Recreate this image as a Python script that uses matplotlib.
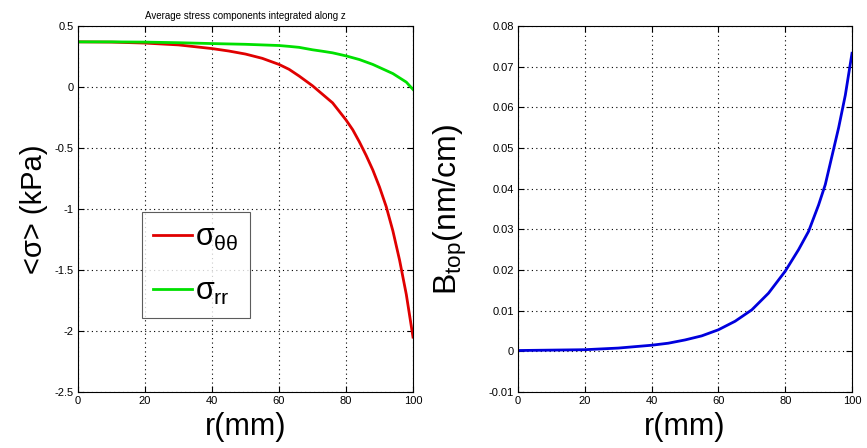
import matplotlib.pyplot as plt
import numpy as np

plt.rcParams['font.family'] = ['Liberation Sans', 'DejaVu Sans']
plt.rcParams['mathtext.fontset'] = 'custom'
plt.rcParams['mathtext.rm'] = 'Liberation Sans'
plt.rcParams['mathtext.it'] = 'Liberation Sans'

r = [0, 10, 20, 30, 40, 45, 50, 55, 60, 63, 66, 70, 73, 76, 80, 82, 84, 86, 88, 90,
     92, 94, 96, 98, 100]

# average stress components (kPa)
sigma_tt = [0.37, 0.368, 0.36, 0.345, 0.315, 0.295, 0.27, 0.235, 0.185, 0.145, 0.09,
            0.01, -0.06, -0.13, -0.27, -0.35, -0.45, -0.56, -0.68, -0.82, -0.98, -1.18,
            -1.42, -1.7, -2.05]
sigma_rr = [0.37, 0.37, 0.368, 0.363, 0.356, 0.353, 0.35, 0.345, 0.34, 0.333, 0.325,
            0.305, 0.293, 0.28, 0.255, 0.24, 0.225, 0.205, 0.185, 0.16, 0.135, 0.11,
            0.075, 0.04, -0.02]

# radius (mm) and B_top (nm/cm)
r_b = [0, 10, 20, 30, 40, 45, 50, 55, 60, 65, 70, 75, 80, 84, 87, 90, 92, 94, 96, 98, 100]
b_top = [0.0002, 0.0003, 0.0004, 0.0008, 0.0015, 0.002, 0.0028, 0.0038, 0.0053, 0.0074,
         0.0102, 0.0143, 0.0197, 0.025, 0.0295, 0.036, 0.041, 0.048, 0.055, 0.063, 0.0733]

fig = plt.figure(figsize=(8.67, 4.48), dpi=100)
ax1 = fig.add_axes([78 / 867, 1 - 392 / 448, 335 / 867, 366 / 448])
ax2 = fig.add_axes([518 / 867, 1 - 392 / 448, 334 / 867, 366 / 448])

ax1.plot(r, sigma_tt, color='#e00000', lw=2, label=r'$\sigma_{\theta\theta}$')
ax1.plot(r, sigma_rr, color='#00e000', lw=2, label=r'$\sigma_{rr}$')
ax1.set_xlim(0, 100)
ax1.set_ylim(-2.5, 0.5)
ax1.set_yticks(np.arange(-2.5, 0.51, 0.5))
ax1.set_yticklabels(['-2.5', '-2', '-1.5', '-1', '-0.5', '0', '0.5'])
ax1.set_title('Average stress components integrated along z', fontsize=7, pad=5)
ax1.set_ylabel('<σ> (kPa)', fontsize=21, labelpad=5)
leg = ax1.legend(loc='upper left', bbox_to_anchor=(0.191, 0.492), fontsize=22,
                 frameon=True, fancybox=False, edgecolor='#333333',
                 handlelength=1.3, borderpad=0.35, labelspacing=0.8, handletextpad=0.1,
                 borderaxespad=0)
leg.get_frame().set_linewidth(0.8)

ax2.plot(r_b, b_top, color='#0000dd', lw=2)
ax2.set_xlim(0, 100)
ax2.set_ylim(-0.01, 0.08)
ax2.set_yticks(np.arange(-0.01, 0.081, 0.01))
ax2.set_yticklabels(['-0.01', '0', '0.01', '0.02', '0.03', '0.04', '0.05', '0.06', '0.07', '0.08'])
ax2.set_ylabel(r'B$_{\mathrm{top}}$(nm/cm)', fontsize=23, labelpad=14)

for ax in (ax1, ax2):
    ax.set_xticks([0, 20, 40, 60, 80, 100])
    ax.set_xlabel('r(mm)', fontsize=22, labelpad=4)
    ax.grid(True, linestyle=(0, (1, 3)), color='black', lw=0.8)
    ax.tick_params(direction='in', labelsize=8, length=4, top=True, right=True, pad=3)
    for s in ax.spines.values():
        s.set_linewidth(0.8)

fig.savefig('out.png', dpi=100)
